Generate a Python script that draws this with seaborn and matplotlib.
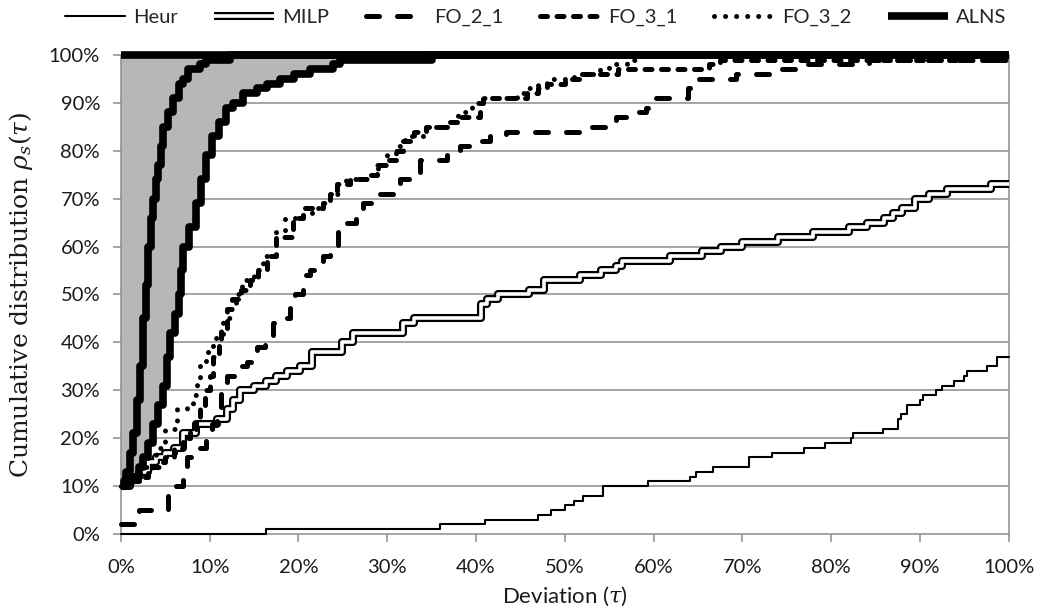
"""Perfil de desempeño acumulado: Heur, MILP, FO_* y banda ALNS."""

import matplotlib

matplotlib.use("Agg")

import matplotlib.patheffects as pe  # noqa: E402
import matplotlib.pyplot as plt  # noqa: E402
import seaborn as sns  # noqa: E402
from matplotlib.lines import Line2D  # noqa: E402
from matplotlib.ticker import MultipleLocator, PercentFormatter  # noqa: E402

# Cada serie: puntos de salto (desviación %, distribución acumulada %), escalón "post".
HEUR_X = [0, 16.4, 36, 41, 47, 48.5, 50, 51, 52, 54.3, 59.4, 64.1, 64.8, 66.7, 70.7, 73.3,
          76.9, 79.3, 82.2, 82.5, 85.8, 87.5, 87.9, 88.6, 90, 90.3, 91.8, 92.5, 93.8, 95,
          95.3, 97.6, 98.7, 100]
HEUR_Y = [0, 1, 2, 3, 4, 5, 6, 7, 8, 10, 11, 12, 13, 14, 16, 17, 18, 19, 20, 21, 22, 24,
          25, 27, 28, 29, 30, 31, 32, 33, 34, 35, 37, 37]

MILP_X = [0, 1, 2, 3, 4, 5, 6, 7, 8.5, 10.8, 12, 12.6, 13.4, 15, 16.4, 17.5, 18.7, 20.2,
          21.5, 24.9, 26.2, 31.8, 33, 40.6, 41.2, 42.5, 46, 47.7, 51.7, 54.1, 55.8, 56.5,
          61.8, 65.5, 67.6, 70, 74, 78, 82, 84, 86, 87, 88, 89.5, 91, 93, 98, 100]
MILP_Y = [10, 12, 13, 15, 16, 17, 18, 21, 23, 24, 26, 28, 30, 31, 32, 33, 34, 35, 38, 40,
          42, 44, 45, 48, 49, 50, 51, 53, 54, 55, 56, 57, 58, 59, 60, 61, 62, 63, 64, 65,
          66, 67, 68, 70, 71, 72, 73, 73]

FO21_X = [0, 2, 5.3, 6.2, 7.0, 7.4, 8.9, 9.6, 10.3, 10.8, 11.3, 12.0, 13.2, 14.2, 15.3,
          16.2, 17.1, 18.1, 19.0, 19.6, 20.5, 21.3, 22.8, 23.5, 24.5, 25.4, 26.5, 27.3,
          28.8, 31.4, 32.5, 33.7, 36.7, 38.2, 40.4, 41.6, 43.4, 52, 54.5, 55.8, 57.9, 59.2,
          60.1, 63.9, 64.4, 69.3, 73.4, 76.6, 84.3, 100]
FO21_Y = [2, 5, 8, 10, 14, 16, 18, 20, 23, 26, 31, 33, 35, 36, 39, 40, 44, 45, 48, 50, 54,
          55, 58, 60, 63, 65, 67, 69, 71, 74, 75, 78, 80, 81, 82, 83, 84, 85, 86, 87, 88,
          89, 91, 93, 95, 96, 97, 98, 99, 99]

FO31_X = [0, 1, 2, 3, 3.5, 4.3, 5, 6, 7, 7.8, 8.5, 8.9, 9.5, 10, 10.4, 11, 11.3, 11.9,
          12.5, 13.5, 14.5, 15.5, 16.5, 17.5, 19.4, 20.5, 22.8, 23.5, 24.3, 25.8, 28, 28.8,
          30, 31, 31.8, 33, 34.4, 36.7, 38.2, 40.4, 40.8, 45.7, 47, 48, 50, 52, 56, 66.3,
          67.5, 100]
FO31_Y = [10, 11, 12, 13, 14, 15, 16, 18, 20, 22, 24, 26, 30, 33, 37, 40, 43, 47, 49, 51,
          53, 55, 58, 62, 66, 68, 69, 71, 73, 74, 75, 77, 78, 80, 82, 84, 85, 86, 87, 90,
          91, 92, 93, 94, 95, 96, 97, 98, 99, 99]

FO32_X = [0, 1, 2, 3, 4, 5, 6.3, 7.4, 8.1, 8.6, 8.9, 9.6, 10.4, 11.5, 12.3, 13, 13.7, 15,
          16, 17.5, 18.5, 20.5, 21.5, 22.8, 23.5, 24.5, 25.4, 28, 29, 30, 31, 32, 34.4,
          36.7, 38, 39.5, 40.8, 44.6, 46, 47, 48, 51, 54, 55, 57, 58.5, 100]
FO32_Y = [10, 12, 14, 16, 18, 22, 26, 27, 29, 32, 35, 38, 41, 45, 47, 50, 53, 55, 58, 63,
          66, 67, 68, 69, 71, 73, 74, 75, 77, 79, 81, 83, 85, 86, 88, 90, 91, 92, 93, 94,
          95, 96, 97, 98, 99, 100, 100]

ALNS_MIN_X = [0, 0.3, 0.6, 1.0, 1.4, 1.8, 2.1, 2.5, 2.8, 3.1, 3.4, 3.6, 4.0, 4.2, 4.5, 4.8,
              5.3, 5.9, 6.5, 7.0, 7.6, 8.9, 9.6, 12.3, 100]
ALNS_MIN_Y = [10, 11, 13, 17, 21, 28, 35, 45, 52, 60, 66, 70, 74, 77, 81, 85, 88, 91, 94,
              95, 97, 98, 99, 100, 100]

ALNS_MAX_X = [0, 0.7, 1.4, 2.0, 2.5, 3.0, 3.6, 4.2, 4.8, 5.2, 5.5, 6.1, 6.6, 6.8, 7.0, 7.7,
              8.5, 9.0, 9.6, 10.3, 11.1, 11.8, 12.6, 13.8, 15.3, 16.5, 17.9, 19.5, 21.3,
              23.9, 24.7, 35, 100]
ALNS_MAX_Y = [10, 11, 12, 14, 16, 19, 23, 27, 31, 37, 42, 46, 50, 55, 60, 64, 69, 74, 79,
              83, 86, 89, 90, 92, 93, 94, 95, 96, 97, 98, 99, 100, 100]

SANS = ["Lato", "DejaVu Sans"]
SERIF = ["DejaVu Serif"]
GRID = "#8c8c8c"
FILL = "#b7b7b7"
INK = "#1a1a1a"

ST = {
    "Heur": dict(color="black", linewidth=1.5),
    "MILP": dict(color="white", linewidth=2.6, solid_capstyle="butt",
                 path_effects=[pe.Stroke(linewidth=5.8, foreground="black", capstyle="butt"),
                               pe.Normal()]),
    "FO_2_1": dict(color="black", linewidth=3.6, linestyle=(0, (2.6, 3.6)),
                   dash_capstyle="round"),
    "FO_3_1": dict(color="black", linewidth=3.6, linestyle=(0, (1.4, 1.9)),
                   dash_capstyle="round"),
    "FO_3_2": dict(color="black", linewidth=3.6, linestyle=(0, (0.01, 2.2)),
                   dash_capstyle="round"),
    "ALNS": dict(color="black", linewidth=5.5, solid_capstyle="butt"),
}


def step(ax, x, y, name):
    sns.lineplot(x=x, y=y, ax=ax, drawstyle="steps-post", estimator=None, sort=False,
                 legend=False, clip_on=False, zorder=3, **ST[name])


def main():
    sns.set_style("ticks")
    plt.rcParams["font.family"] = SANS
    plt.rcParams["mathtext.fontset"] = "dejavuserif"

    fig, ax = plt.subplots(figsize=(10.42, 6.16), dpi=100)
    fig.subplots_adjust(left=0.116, right=0.968, top=0.911, bottom=0.133)

    ax.fill_betweenx(ALNS_MAX_Y, 0, ALNS_MAX_X, step="pre", color=FILL, lw=0, zorder=1)
    for y in range(10, 100, 10):
        ax.axhline(y, color=GRID, lw=1.1, zorder=0.5)

    step(ax, HEUR_X, HEUR_Y, "Heur")
    step(ax, MILP_X, MILP_Y, "MILP")
    step(ax, FO21_X, FO21_Y, "FO_2_1")
    step(ax, FO31_X, FO31_Y, "FO_3_1")
    step(ax, FO32_X, FO32_Y, "FO_3_2")
    step(ax, ALNS_MIN_X, ALNS_MIN_Y, "ALNS")
    step(ax, ALNS_MAX_X, ALNS_MAX_Y, "ALNS")

    ax.set(xlim=(0, 100), ylim=(0, 100))
    ax.xaxis.set_major_locator(MultipleLocator(10))
    ax.yaxis.set_major_locator(MultipleLocator(10))
    ax.xaxis.set_major_formatter(PercentFormatter(100, decimals=0))
    ax.yaxis.set_major_formatter(PercentFormatter(100, decimals=0))
    ax.tick_params(length=6, width=1.1, color=GRID, labelsize=14.5, labelcolor=INK)
    ax.tick_params(axis="x", pad=12)
    ax.tick_params(axis="y", pad=9)
    for s in ax.spines.values():
        s.set_color(GRID)
        s.set_linewidth(1.1)
    # el borde superior queda bajo la banda ALNS al 100 %
    top = ax.spines["top"]
    top.set_color("black")
    top.set_linewidth(5.5)
    top.set_capstyle("butt")
    top.set_zorder(4)

    ax.set_xlabel(r"Deviation ($\tau$)", fontsize=16, color=INK, labelpad=6)
    ax.set_ylabel(r"Cumulative distribution $\rho_s(\tau)$", fontsize=18, family=SERIF,
                  color=INK, labelpad=10)

    handles = [Line2D([], [], **ST[n], label=n) for n in ST]
    fig.legend(handles=handles, loc="center", bbox_to_anchor=(0.514, 0.972), ncol=6,
               frameon=False, fontsize=14.5, handlelength=3.0, handletextpad=0.4,
               columnspacing=1.8)

    fig.savefig("out.png", dpi=100)


if __name__ == "__main__":
    main()
